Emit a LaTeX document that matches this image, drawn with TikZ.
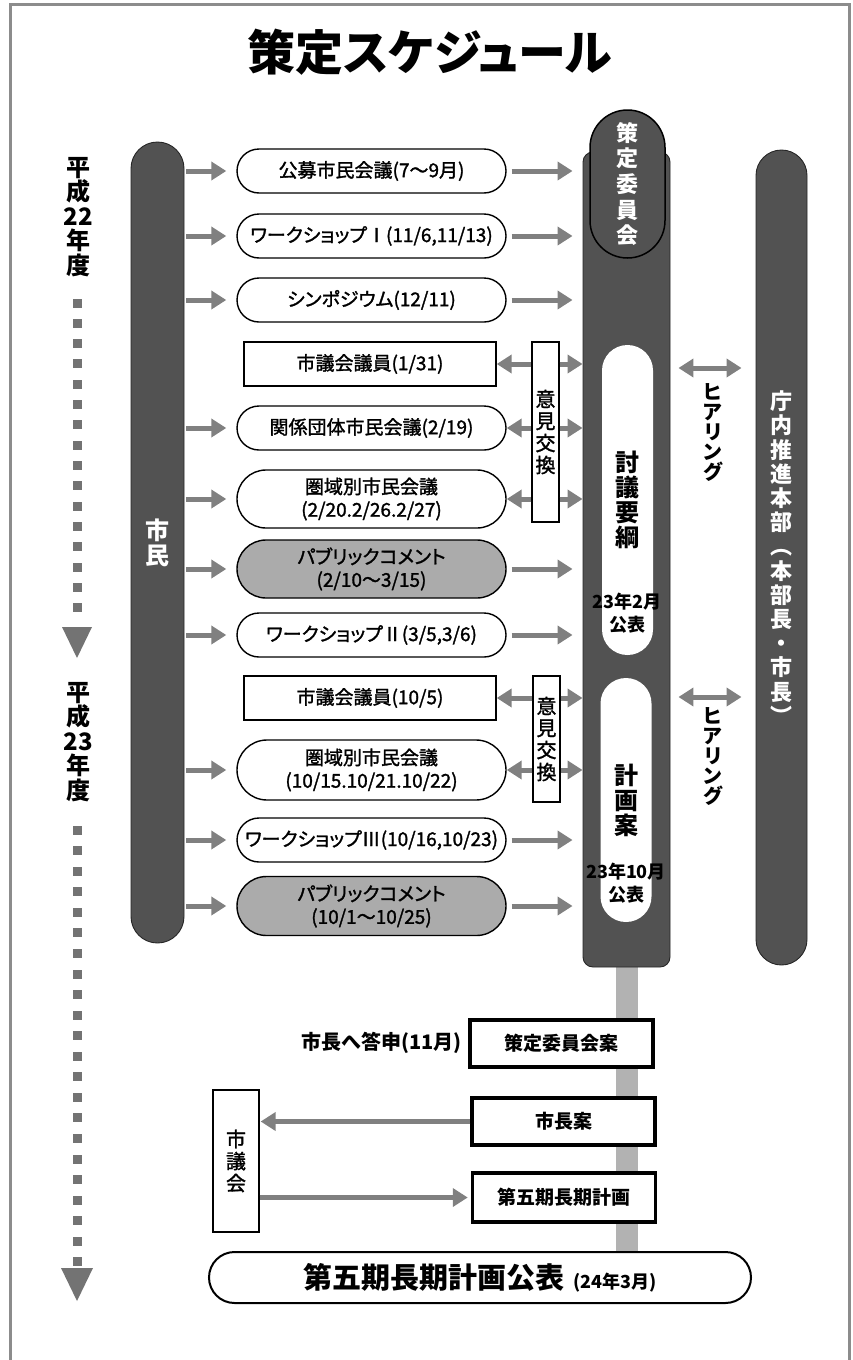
\documentclass[tikz,border=0pt]{standalone}
\usepackage{fontspec}
\setmainfont{Noto Sans CJK JP}[RawFeature=+palt]
\newfontfamily\boxfont{Noto Sans CJK JP}[RawFeature=+palt, FakeBold=1.5]
\usetikzlibrary{arrows.meta,shapes.misc,backgrounds}
\newcommand\fsz[2]{\fontsize{#1}{#2}\selectfont}
\tikzset{
  pill/.style={rounded rectangle, draw, line width=1.4pt, fill=white, minimum width=269pt,
    minimum height=44pt, inner sep=0pt, align=center, font=\boxfont\fsz{19}{23}},
  pcpill/.style={pill, fill=black!33},
  rbox/.style={rectangle, draw, line width=1.4pt, fill=white, minimum width=252pt,
    minimum height=44pt, inner sep=0pt, font=\boxfont\fsz{19}{23}},
  darkcol/.style={fill=black!68, draw=black!85, line width=0.9pt, inner sep=0pt,
    align=center, text=white, font=\fsz{22}{24}\bfseries},
  whiteoval/.style={fill=white, inner sep=0pt, minimum width=51pt, align=center,
    font=\fsz{24}{25}\bfseries},
  datelbl/.style={align=center, inner sep=0pt, font=\fsz{18}{23}\bfseries},
  ikenbox/.style={draw, line width=1.3pt, fill=white, minimum width=27pt, inner sep=0pt,
    align=center, font=\boxfont\fsz{20}{22}},
  vlabel/.style={align=center, inner sep=0pt, font=\fsz{20}{20}\bfseries},
  yearlbl/.style={align=center, inner sep=0pt, font=\fsz{24}{24.5}\bfseries},
  kbox/.style={draw, line width=3.5pt, fill=white, minimum width=183pt, minimum height=47pt,
    inner sep=0pt, font=\fsz{19}{19}\bfseries},
  sqmark/.style={fill=black!55},
  garrow/.style={draw=black!50, line width=5pt, -{Triangle[length=15pt,width=18pt]}},
  gdouble/.style={draw=black!50, line width=5pt,
    {Triangle[length=15pt,width=18pt]}-{Triangle[length=15pt,width=18pt]}}
}
\begin{document}
\begin{tikzpicture}[x=1pt, y=-1pt]
\useasboundingbox (0,0) rectangle (852,1360);
\draw[black!45, line width=3pt] (10,1360) -- (10,4) -- (849,4) -- (849,1360);
\node[inner sep=0pt, font=\fsz{48}{48}\bfseries] (title) at (430,52) {策定スケジュール};

\node[yearlbl] (yearA) at (78,217) {平\\成\\22\\年\\度};
\node[yearlbl] (yearB) at (78,742) {平\\成\\23\\年\\度};
\foreach \i in {0,...,15} \fill[sqmark] (72.5,{298.5+20.33*\i}) rectangle ++(9,9);
\foreach \i in {0,...,21} \fill[sqmark] (72.5,{825.5+20.57*\i}) rectangle ++(9,9);
\fill[sqmark] (62,627) -- (92,627) -- (77,658) -- cycle;
\fill[sqmark] (61,1268) -- (93,1268) -- (77,1301) -- cycle;

\node[darkcol, minimum width=53pt, minimum height=801pt, rounded corners=26.5pt,
  font=\fsz{24}{25}\bfseries] (shimin) at (157.5,542.5) {市\\民};
\node[darkcol, minimum width=87pt, minimum height=815pt, rounded corners=10pt] (iinkai) at (626.5,559.5) {};
\node[darkcol, draw=black, line width=1.5pt, minimum width=75pt, minimum height=148pt,
  rounded corners=37.5pt, font=\fsz{22}{25.7}\bfseries] (dome) at (627.5,184) {策\\定\\委\\員\\会};
\node[whiteoval, minimum height=310pt, rounded corners=25.5pt] (togi) at (627.5,500) {討\\議\\要\\綱};
\node[datelbl] (togidate) at (627,613) {23年2月\\公表};
\node[whiteoval, minimum height=244pt, rounded corners=25.5pt] (keikaku) at (626,800) {計\\画\\案};
\node[datelbl] (keikakudate) at (626,883) {23年10月\\公表};
\node[darkcol, minimum width=51pt, minimum height=815pt, rounded corners=25.5pt,
  font=\fsz{22}{24.2}\bfseries] (honbu) at (781.5,557.5) {庁\\内\\推\\進\\本\\部\\︵\\本\\部\\長\\・\\市\\長\\︶};

\node[pill] (r1) at (371.5,171) {公募市民会議(7～9月)};
\node[pill] (r2) at (371.5,236) {ワークショップⅠ(11/6,11/13)};
\node[pill] (r3) at (371.5,300) {シンポジウム(12/11)};
\node[rbox] (r4) at (370,364) {市議会議員(1/31)};
\node[pill] (r5) at (371.5,428) {関係団体市民会議(2/19)};
\node[pill, minimum height=58pt] (r6) at (371.5,499) {圏域別市民会議\\(2/20.2/26.2/27)};
\node[pcpill, minimum height=58pt] (r7) at (371.5,569) {パブリックコメント\\(2/10～3/15)};
\node[pill] (r8) at (371.5,635) {ワークショップⅡ(3/5,3/6)};
\node[rbox] (r9) at (370,698) {市議会議員(10/5)};
\node[pill, minimum height=60pt] (r10) at (371.5,770) {圏域別市民会議\\(10/15.10/21.10/22)};
\node[pill] (r11) at (371.5,840) {ワークショップⅢ(10/16,10/23)};
\node[pcpill, minimum height=59pt] (r12) at (371.5,906) {パブリックコメント\\(10/1～10/25)};

\node[ikenbox, minimum height=180pt] (ikenA) at (545.5,432) {意\\見\\交\\換};
\node[ikenbox, minimum height=126pt] (ikenB) at (546.5,739) {意\\見\\交\\換};

\foreach \r in {r1,r2,r3,r5,r6,r7,r8,r10,r11,r12}
  \draw[garrow, shorten <=2pt, shorten >=10pt] (shimin.east |- \r.west) -- (\r.west);
\foreach \r in {r1,r2,r3,r7,r8,r11,r12}
  \draw[garrow, shorten <=5pt, shorten >=10pt] (\r.east) -- (\r.east -| iinkai.west);
\foreach \r/\k in {r4/ikenA,r5/ikenA,r6/ikenA,r9/ikenB,r10/ikenB} {
  \draw[garrow] (\k.west |- \r.east) -- (\r.east);
  \draw[garrow] (\k.east |- \r.east) -- (\r.east -| iinkai.west);
}

\coordinate (hearpA) at (710,368);
\coordinate (hearpB) at (710,697);
\draw[gdouble, shorten <=8pt, shorten >=14pt] (hearpA -| iinkai.east) -- (hearpA -| honbu.west);
\draw[gdouble, shorten <=8pt, shorten >=14pt] (hearpB -| iinkai.east) -- (hearpB -| honbu.west);
\node[vlabel] (hearA) at (713,433) {ヒ\\ア\\リ\\ン\\グ};
\node[vlabel] (hearB) at (713,757) {ヒ\\ア\\リ\\ン\\グ};

\node[kbox] (soan) at (561.5,1043.5) {策定委員会案};
\node[anchor=east, inner sep=0pt, font=\fsz{20}{20}\bfseries] (toshin) at (462,1043) {市長へ答申(11月)};
\node[kbox] (shian) at (563.5,1121.5) {市長案};
\node[kbox, minimum height=49pt] (plan) at (564,1197.5) {第五期長期計画};
\node[draw, line width=1.3pt, minimum width=46pt, minimum height=142pt, inner sep=0pt,
  align=center, font=\boxfont\fsz{20}{22}] (gikai) at (236,1161) {市\\議\\会};
\draw[garrow, shorten >=1pt] (shian.west) -- (shian.west -| gikai.east);
\draw[garrow, shorten >=3pt] (gikai.east |- plan.west) -- (plan.west);

\node[rounded rectangle, draw, line width=2pt, fill=white, minimum width=542pt,
  minimum height=51pt, inner sep=0pt] (final) at (480,1277.5)
  {{\fsz{29}{29}\bfseries 第五期長期計画公表}\hspace{9pt}{\fsz{18}{18}\bfseries (24年3月)}};

\begin{scope}[on background layer]
\draw[black!30, line width=22pt] (iinkai.south) -- (iinkai.south |- final.north);
\end{scope}
\end{tikzpicture}
\end{document}
